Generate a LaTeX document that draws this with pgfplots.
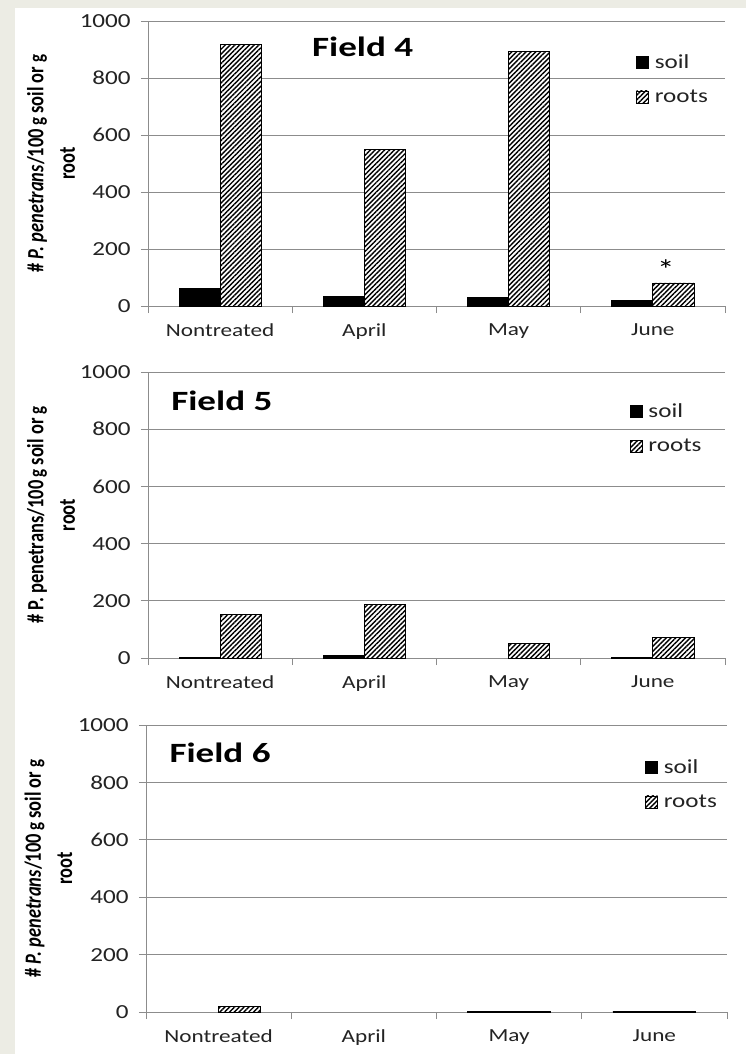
\documentclass[border=0pt]{standalone}
\usepackage{fontspec}
\setmainfont{Carlito}
\usepackage{pgfplots}
\pgfplotsset{compat=1.18}
\usetikzlibrary{patterns.meta}
\definecolor{bgcol}{RGB}{236,236,228}
\definecolor{gridcol}{RGB}{140,140,140}
\definecolor{txt}{RGB}{35,35,35}
\newcommand{\smg}{{\fontsize{17}{17}\selectfont g}}
\pgfplotsset{
  soilbar/.style={ybar, bar width=0.285, bar shift=-0.1425, draw=black, fill=black, line width=0.8bp},
  rootbar/.style={ybar, bar width=0.285, bar shift=0.1425, draw=black, fill=white, line width=0.8bp,
     postaction={pattern={Lines[angle=45,distance=3.4bp,line width=1.4bp]}, pattern color=black}},
  fieldaxis/.style={
    scale only axis,
    xmin=-0.5, xmax=3.5, ymin=0, ymax=1000,
    ytick={0,200,...,1000},
    xtick={-0.5,0.5,1.5,2.5,3.5},
    xticklabels={,,,,,},
    extra x ticks={0,1,2,3},
    extra x tick labels={Nontreated,April,May,June},
    extra x tick style={major tick length=0pt, grid=none},
    axis x line*=bottom, axis y line*=left,
    axis line style={gridcol, line width=0.8bp, -},
    ymajorgrids, grid style={gridcol, line width=0.8bp},
    tick align=outside,
    major tick length=7bp,
    tick style={gridcol, line width=0.8bp},
    /pgf/number format/1000 sep={},
    /pgf/number format/assume math mode=true,
    tick label style={font=\fontsize{18.5}{20}\selectfont, text=txt, xscale=1.26},
    yticklabel style={anchor=east, inner sep=0pt, xshift=-8bp, font=\fontsize{20}{22}\selectfont},
    xticklabel style={anchor=north, inner sep=0pt, yshift=-17bp},
    ylabel style={at={(axis description cs:-0.168,0.5)}, anchor=center, align=center,
       font=\bfseries\fontsize{18.5}{25}\selectfont, yscale=1.26},
    legend style={draw=none, fill=none, inner sep=0pt, anchor=north west,
       row sep=17bp, column sep=4bp,
       font=\fontsize{20}{21}\selectfont,
       nodes={inner sep=1.5bp, anchor=west, xscale=1.26, text=txt}},
    legend cell align=left,
    legend image code/.code={\draw[#1, line width=0.6bp] (0bp,-6bp) rectangle (12bp,6bp);},
  }
}
\begin{document}
\begin{tikzpicture}
\path[use as bounding box] (0,0) rectangle (746bp,-1054bp);
\fill[bgcol] (0,0) rectangle (746bp,-1054bp);
\fill[white] (15bp,-8bp) rectangle (746bp,-1054bp);

% Field 4
\begin{axis}[fieldaxis, at={(148bp,-306bp)}, anchor=south west, width=577bp, height=285bp,
  ylabel={\# \textit{P. penetrans}/100\,\smg\ soil or \smg\\root},
  legend style={at={(axis description cs:0.846,0.888)}}]
\addplot[soilbar] coordinates {(0,63) (1,35) (2,30) (3,21)};
\addplot[rootbar] coordinates {(0,918) (1,550) (2,892) (3,81)};
\legend{soil,roots}
\node[anchor=base west, inner sep=0pt, xscale=1.33, font=\bfseries\fontsize{28}{30}\selectfont] at (axis description cs:0.284,0.874) {Field 4};
\node[inner sep=0pt, xscale=1.26, font=\fontsize{28}{28}\selectfont] at (axis cs:3.09,128) {*};
\end{axis}

% Field 5
\begin{axis}[fieldaxis, at={(148bp,-658bp)}, anchor=south west, width=577bp, height=286bp,
  ylabel={\# P. penetrans/100\,\smg\ soil or \smg\\root},
  legend style={at={(axis description cs:0.835,0.894)}}]
\addplot[soilbar] coordinates {(0,3) (1,8) (3,3)};
\addplot[rootbar] coordinates {(0,151) (1,186) (2,52) (3,73)};
\legend{soil,roots}
\node[anchor=base west, inner sep=0pt, xscale=1.33, font=\bfseries\fontsize{28}{30}\selectfont] at (axis description cs:0.04,0.864) {Field 5};
\end{axis}

% Field 6
\begin{axis}[fieldaxis, at={(146bp,-1012bp)}, anchor=south west, width=581bp, height=287bp,
  ylabel={\# \textit{P. penetrans}/100\,\smg\ soil or \smg\\root},
  legend style={at={(axis description cs:0.859,0.886)}}]
\addplot[soilbar] coordinates {(2,3) (3,3)};
\addplot[rootbar] coordinates {(0,18) (2,1) (3,1)};
\legend{soil,roots}
\node[anchor=base west, inner sep=0pt, xscale=1.33, font=\bfseries\fontsize{28}{30}\selectfont] at (axis description cs:0.04,0.868) {Field 6};
\end{axis}
\end{tikzpicture}
\end{document}
